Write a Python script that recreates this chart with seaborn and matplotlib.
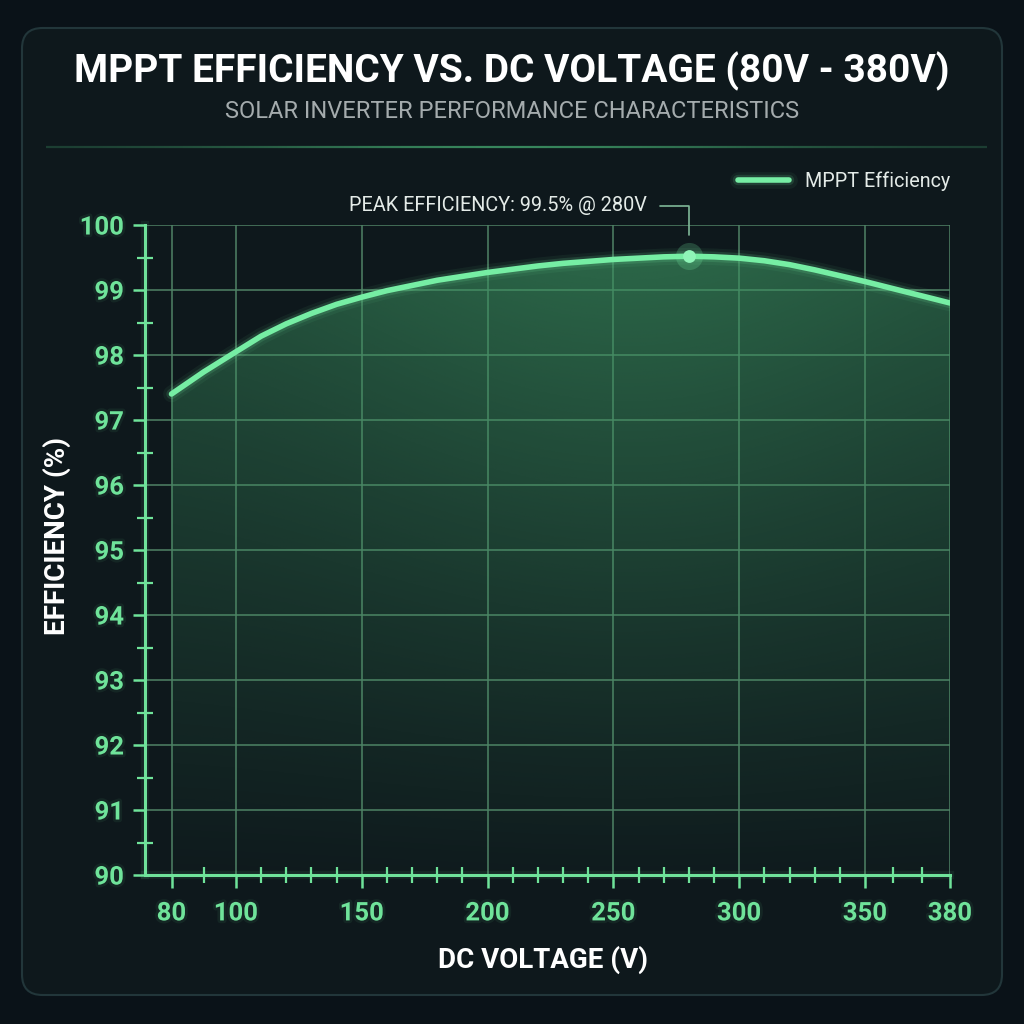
import numpy as np
import pandas as pd
import matplotlib
matplotlib.use('Agg')
import matplotlib.pyplot as plt
import matplotlib.patheffects as pe
from matplotlib.patches import FancyBboxPatch
from matplotlib.lines import Line2D
from matplotlib.ticker import FixedLocator
import seaborn as sns

# data
voltage = [80, 90, 100, 110, 120, 130, 140, 150, 160, 170, 180, 190, 200, 210, 220,
           230, 240, 250, 260, 270, 280, 290, 300, 310, 320, 330, 340, 350, 360, 370, 380]
efficiency = [97.40, 97.74, 98.05, 98.29, 98.48, 98.64, 98.78, 98.89, 98.99, 99.07, 99.15,
              99.21, 99.27, 99.32, 99.37, 99.41, 99.44, 99.47, 99.49, 99.51, 99.52, 99.51,
              99.49, 99.45, 99.39, 99.31, 99.22, 99.13, 99.02, 98.91, 98.80]
x_major = [80, 100, 150, 200, 250, 300, 350, 380]
x_minor = [90, 110, 120, 130, 140, 160, 170, 180, 190, 210, 220, 230, 240, 260, 270,
           280, 290, 310, 320, 330, 340, 360, 370]
y_major = [90, 91, 92, 93, 94, 95, 96, 97, 98, 99, 100]
y_minor = [90.5, 91.5, 92.5, 93.5, 94.5, 95.5, 96.5, 97.5, 98.5, 99.5]

title = 'MPPT EFFICIENCY VS. DC VOLTAGE (80V - 380V)'
subtitle = 'SOLAR INVERTER PERFORMANCE CHARACTERISTICS'
peak_label = 'PEAK EFFICIENCY: 99.5% @ 280V'

df = pd.DataFrame({'voltage': voltage, 'efficiency': efficiency})

sns.set_theme(style='dark')
plt.rcParams['font.family'] = ['Roboto', 'DejaVu Sans']

GREEN = '#76eea4'
TICKG = '#6fe39a'
GRID = '#4f8266'
BG_OUT = '#0a1218'
BG_PANEL = '#0e181c'

fig = plt.figure(figsize=(10.24, 10.24), dpi=100)
fig.patch.set_facecolor(BG_OUT)

panel = FancyBboxPatch((22 / 1024, 29 / 1024), 980 / 1024, 967 / 1024,
                       boxstyle='round,pad=0,rounding_size=0.02',
                       transform=fig.transFigure, facecolor=BG_PANEL,
                       edgecolor='#22363a', linewidth=1.5, zorder=-10)
fig.patches.append(panel)

# separator under the titles, brighter in the middle
xs = np.linspace(46, 987, 200) / 1024
for i in range(len(xs) - 1):
    mid = (xs[i] + xs[i + 1]) / 2
    a = 0.25 + 0.6 * np.exp(-((mid - 0.5) / 0.28) ** 2)
    fig.lines.append(Line2D([xs[i], xs[i + 1]], [1 - 147 / 1024] * 2, transform=fig.transFigure,
                            color='#3f9a68', alpha=a, lw=1.6, solid_capstyle='butt', zorder=-5))

fig.text(0.5, 1 - 71 / 1024, title, ha='center', va='center', color='white',
         fontsize=28, fontweight='bold')
fig.text(0.5, 1 - 112 / 1024, subtitle, ha='center', va='center', color='#a4abad',
         fontsize=17)

ax = fig.add_axes([145 / 1024, 1 - 875 / 1024, 805 / 1024, 650 / 1024])
ax.set_facecolor('none')

# the reference draws the voltage axis with uneven spacing
v_knots = [0, 80, 100, 350, 380, 1000]
p_knots = [-40.5, 171.5, 236, 865, 950, 2706.7]


def fwd(v):
    return np.interp(v, v_knots, p_knots)


def inv(p):
    return np.interp(p, p_knots, v_knots)


ax.set_xscale('function', functions=(fwd, inv))
ax.set_xlim(70, 380)
ax.set_ylim(90, 100)

glow = [pe.Stroke(linewidth=12, foreground=GREEN, alpha=0.06),
        pe.Stroke(linewidth=7.5, foreground=GREEN, alpha=0.14),
        pe.Normal()]
sns.lineplot(data=df, x='voltage', y='efficiency', ax=ax, color=GREEN, lw=4,
             label='MPPT Efficiency', zorder=5, path_effects=glow,
             solid_capstyle='round', solid_joinstyle='round')

# gradient fill under the curve
fill = ax.fill_between(voltage, efficiency, 90, color='none', lw=0)
h, w = 300, 300
ty = np.linspace(1, 0, h)[:, None]
tx = np.linspace(0, 1, w)[None, :]
alpha = (0.03 + 0.64 * ty ** 1.1) * (0.7 + 0.3 * np.exp(-((tx - 0.6) / 0.4) ** 2))
rgba = np.zeros((h, w, 4))
rgba[..., 0] = 60 / 255
rgba[..., 1] = 147 / 255
rgba[..., 2] = 97 / 255
rgba[..., 3] = alpha
img = ax.imshow(rgba, extent=[0, 1, 0, 1], transform=ax.transAxes, aspect='auto', zorder=1)
img.set_clip_path(fill.get_paths()[0], transform=ax.transData)

# peak marker and annotation
i_peak = int(np.argmax(efficiency))
pv, pe_val = voltage[i_peak], efficiency[i_peak]
ax.scatter([pv], [pe_val], s=380, color=GREEN, alpha=0.22, zorder=6, lw=0)
ax.scatter([pv], [pe_val], s=85, color='#8ff5b8', zorder=7, lw=0)
ax.annotate(peak_label, xy=(pv, pe_val), xytext=(-30, 36.5), textcoords='offset points',
            ha='right', va='center', color='#e4ebe8', fontsize=14.3,
            arrowprops=dict(arrowstyle='-', color='#7fb898', lw=1.2,
                            connectionstyle='angle,angleA=0,angleB=90,rad=0',
                            relpos=(1, 0.5), shrinkA=7, shrinkB=15),
            annotation_clip=False, zorder=8)

# ticks and grid
ax.xaxis.set_major_locator(FixedLocator(x_major))
ax.xaxis.set_minor_locator(FixedLocator(x_minor))
ax.yaxis.set_major_locator(FixedLocator(y_major))
ax.yaxis.set_minor_locator(FixedLocator(y_minor))
ax.set_xticklabels([str(v) for v in x_major])
ax.set_yticklabels([str(v) for v in y_major])
ax.grid(True, which='major', color=GRID, lw=1.3, alpha=0.85)
ax.grid(False, which='minor')
ax.tick_params(which='both', bottom=True, left=True)
ax.tick_params(which='major', direction='out', length=9, width=1.8, color=TICKG,
               labelcolor=TICKG, labelsize=18.5)
ax.tick_params(which='minor', direction='inout', length=11.5, width=1.6, color=TICKG)
ax.tick_params(axis='x', which='major', pad=10)
ax.tick_params(axis='y', which='major', pad=6)
text_glow = [pe.Stroke(linewidth=4, foreground=TICKG, alpha=0.07), pe.Normal()]
for lab in ax.get_xticklabels() + ax.get_yticklabels():
    lab.set_fontweight('bold')
    lab.set_path_effects(text_glow)

for side in ['top', 'right']:
    ax.spines[side].set_visible(False)
for side in ['left', 'bottom']:
    ax.spines[side].set_color(TICKG)
    ax.spines[side].set_linewidth(2.2)
    ax.spines[side].set_path_effects([pe.Stroke(linewidth=6, foreground=TICKG, alpha=0.08),
                                      pe.Normal()])
    ax.spines[side].set_zorder(9)

ax.set_xlabel('DC VOLTAGE (V)', color='white', fontsize=20, fontweight='bold', va='center')
ax.set_ylabel('EFFICIENCY (%)', color='white', fontsize=20, fontweight='bold', va='center')
ax.xaxis.set_label_coords((543 - 145) / 805, (875 - 960) / 650)
ax.yaxis.set_label_coords((57 - 145) / 805, (875 - 536) / 650)

leg = ax.legend(loc='center right', bbox_to_anchor=(968 / 1024, 1 - 181 / 1024),
                bbox_transform=fig.transFigure, frameon=False, fontsize=14.2,
                handlelength=2.6, handletextpad=0.8)
for t in leg.get_texts():
    t.set_color('#e4ebe8')
for l in leg.get_lines():
    l.set_linewidth(4)

fig.savefig('out.png', dpi=100, facecolor=fig.get_facecolor())
